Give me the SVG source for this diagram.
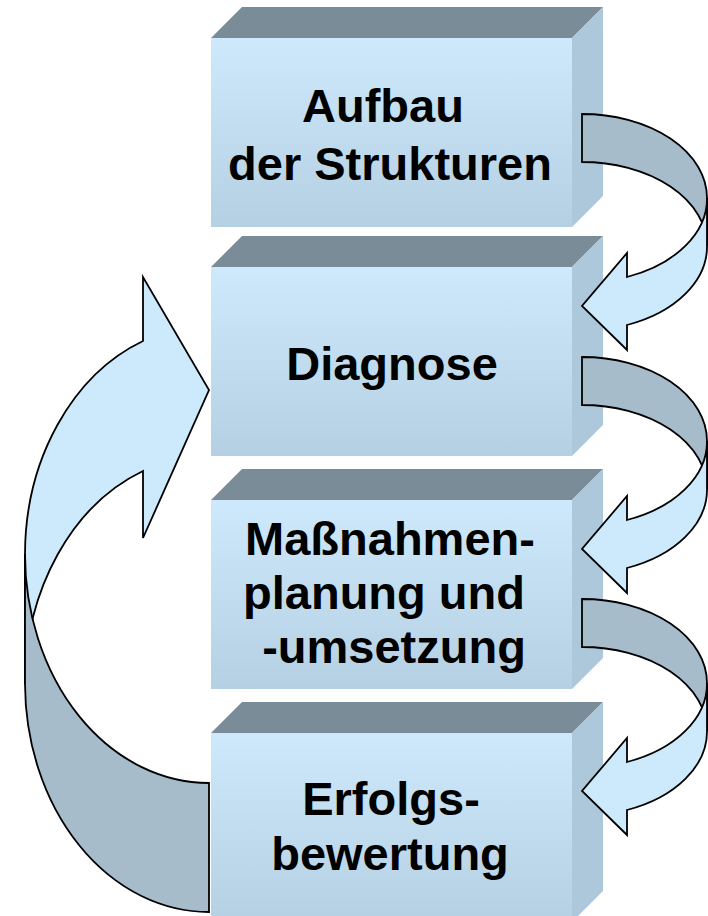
<svg xmlns="http://www.w3.org/2000/svg" width="708" height="916" viewBox="0 0 708 916">
<defs>
<linearGradient id="front" x1="0" y1="0" x2="0" y2="1">
<stop offset="0" stop-color="#cde9fb"/>
<stop offset="1" stop-color="#b5d0e3"/>
</linearGradient>
<style>
.top{fill:#7a8c97}
.side{fill:#aec8db}
.front{fill:url(#front)}
.lbl{font-family:"Liberation Sans",Arial,sans-serif;font-weight:bold;font-size:47px;fill:#000;text-anchor:middle}
.dark{fill:#a6bccb;stroke:#000;stroke-width:1.8;stroke-linejoin:miter}
.light{fill:#cdeafc;stroke:#000;stroke-width:1.8;stroke-linejoin:miter}
</style>
</defs>
<rect width="708" height="916" fill="#fff"/>
<g id="box1">
<polygon class="top" points="211,38 242,7 603,7 572,38"/>
<polygon class="side" points="572,38 603,7 603,196 572,227"/>
<rect class="front" x="211" y="38" width="361" height="189"/>
<text class="lbl" x="383" y="122">Aufbau</text>
<text class="lbl" x="390" y="180">der Strukturen</text>
</g>
<g id="box2">
<polygon class="top" points="211,267 242,236 603,236 572,267"/>
<polygon class="side" points="572,267 603,236 603,425 572,456"/>
<rect class="front" x="211" y="267" width="361" height="189"/>
<text class="lbl" x="392" y="380">Diagnose</text>
</g>
<g id="box3">
<polygon class="top" points="211,500 242,469 603,469 572,500"/>
<polygon class="side" points="572,500 603,469 603,658 572,689"/>
<rect class="front" x="211" y="500" width="361" height="189"/>
<text class="lbl" x="390" y="555">Maßnahmen-</text>
<text class="lbl" x="384" y="609">planung und</text>
<text class="lbl" x="394" y="663">-umsetzung</text>
</g>
<g id="box4">
<polygon class="top" points="211,733 242,702 603,702 572,733"/>
<polygon class="side" points="572,733 603,702 603,891 572,922"/>
<rect class="front" x="211" y="733" width="361" height="189"/>
<text class="lbl" x="391" y="815">Erfolgs-</text>
<text class="lbl" x="390" y="870">bewertung</text>
</g>
<g id="connectors">
<g id="arrow1">
<path class="dark" d="M582,114 A125,84 0 0 1 707,198 L707,246 A125,84 0 0 0 582,162 Z"/>
<path class="light" d="M707,198 A125,84 0 0 1 627,277 L627,253 L582,306 L627,350 L627,325 A125,84 0 0 0 707,246 Z"/>
</g>
<g id="arrow2" transform="translate(0,243)">
<path class="dark" d="M582,114 A125,84 0 0 1 707,198 L707,246 A125,84 0 0 0 582,162 Z"/>
<path class="light" d="M707,198 A125,84 0 0 1 627,277 L627,253 L582,306 L627,350 L627,325 A125,84 0 0 0 707,246 Z"/>
</g>
<g id="arrow3" transform="translate(0,485)">
<path class="dark" d="M582,114 A125,84 0 0 1 707,198 L707,246 A125,84 0 0 0 582,162 Z"/>
<path class="light" d="M707,198 A125,84 0 0 1 627,277 L627,253 L582,306 L627,350 L627,325 A125,84 0 0 0 707,246 Z"/>
</g>
<g id="arrow-back">
<path class="light" d="M143,341 L143,277 L209,390 L143,538 L143,471 A184,229 0 0 0 25,684 L25,554 A184,229 0 0 1 143,341 Z"/>
<path class="dark" d="M25,554 A184,229 0 0 0 209,783 L209,912 A184,229 0 0 1 25,684 Z"/>
</g>
</g>
</svg>
